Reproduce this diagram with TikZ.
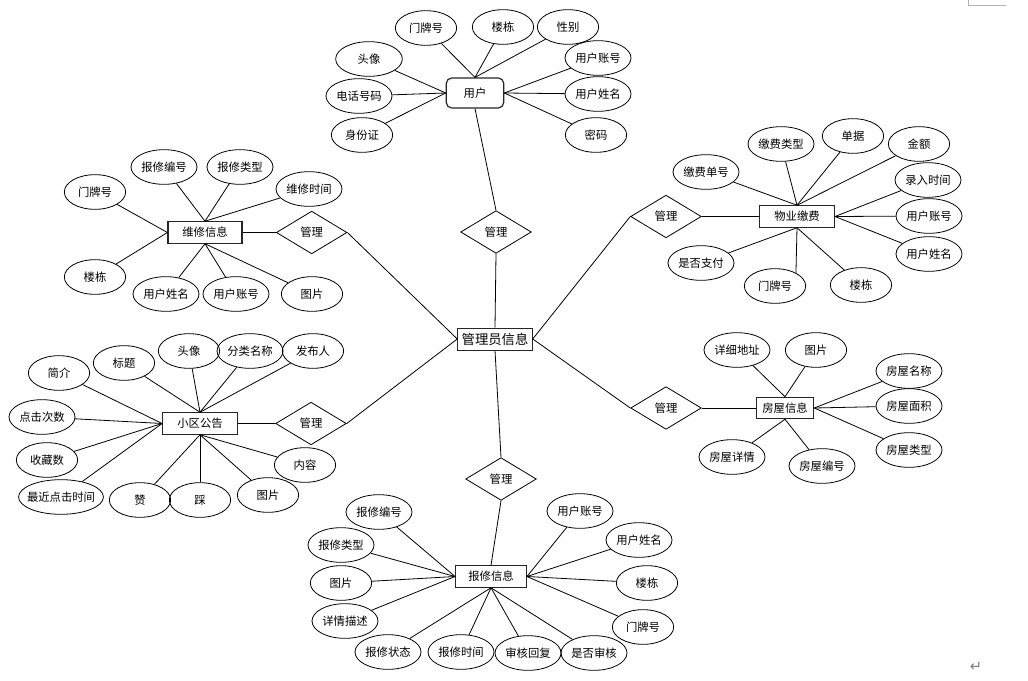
\documentclass[tikz,border=0pt]{standalone}
\usepackage{fontspec}
\setmainfont{Noto Sans CJK SC}
\newfontfamily\symfont{DejaVu Sans}
\usepackage{tikz}
\usetikzlibrary{shapes.geometric,positioning}

\begin{document}
\begin{tikzpicture}[
  x=0.75pt, y=-0.75pt,
  node distance=25pt,
  attr/.style={draw, ellipse, line width=0.6pt, inner sep=0.5pt,
               minimum width=46pt, minimum height=26pt,
               font=\fontsize{8.5}{10}\selectfont},
  entity/.style={draw=black!85, line width=0.9pt, minimum height=16pt,
                 inner sep=2pt, font=\fontsize{8.5}{10}\selectfont},
  rel/.style={draw, diamond, line width=0.6pt, inner sep=0pt,
              minimum width=53pt, minimum height=32pt,
              font=\fontsize{8.5}{10}\selectfont},
  link/.style={draw, line width=0.6pt}]
  \useasboundingbox[fill=white] (0,0) rectangle (1028,681);

  % centre
  \node[entity, line width=0.6pt, minimum width=56pt, minimum height=16.5pt,
        font=\fontsize{10}{12}\selectfont] (admin) at (495,339) {管理员信息};

  % user
  \node[entity, rounded corners=4pt, minimum width=43pt, minimum height=22.5pt]
       (user) at (475,93) {用户};
  \node[rel] (mgrUser) at (496,232) {管理};
  \node[attr] (uDoor) at (426,28) {门牌号};
  \node[attr] (uBldg) at (503,27) {楼栋};
  \node[attr] (uSex) at (568,27) {性别};
  \node[attr] (uAcct) at (598,58) {用户账号};
  \node[attr] (uName) at (598,94) {用户姓名};
  \node[attr] (uPwd) at (596,135) {密码};
  \node[attr, minimum width=50pt] (uHead) at (369,59) {头像};
  \node[attr] (uTel) at (359,96) {电话号码};
  \node[attr] (uIdc) at (362,135) {身份证};
  \foreach \a in {uDoor,uBldg,uSex} \draw[link] (\a) -- (user.north);
  \foreach \a in {uAcct,uName,uPwd} \draw[link] (\a) -- (user.east);
  \foreach \a in {uHead,uTel,uIdc} \draw[link] (\a) -- (user.west);

  % maintenance
  \node[entity, minimum width=55.5pt] (fix) at (205,232.5) {维修信息};
  \node[rel, right=of fix] (mgrFix) {管理};
  \node[attr] (fDoor) at (95,192) {门牌号};
  \node[attr] (fNo) at (164,167) {报修编号};
  \node[attr] (fType) at (240,167) {报修类型};
  \node[attr] (fTime) at (309,189) {维修时间};
  \node[attr] (fBldg) at (95,277) {楼栋};
  \node[attr] (fName) at (166,294) {用户姓名};
  \node[attr] (fAcct) at (236,294) {用户账号};
  \node[attr] (fPic) at (312,294) {图片};
  \foreach \a in {fDoor,fBldg} \draw[link] (\a) -- (fix.west);
  \foreach \a in {fNo,fType,fTime} \draw[link] (\a) -- (fix.north);
  \foreach \a in {fName,fAcct,fPic} \draw[link] (\a) -- (fix.south);

  % property fee
  \node[entity, minimum width=56pt] (fee) at (797,216.5) {物业缴费};
  \node[rel, left=43pt of fee] (mgrFee) {管理};
  \node[attr] (pNo) at (706,172) {缴费单号};
  \node[attr] (pType) at (781,144) {缴费类型};
  \node[attr] (pBill) at (853,136) {单据};
  \node[attr] (pSum) at (919,144) {金额};
  \node[attr] (pTime) at (928,180) {录入时间};
  \node[attr] (pAcct) at (929,216) {用户账号};
  \node[attr] (pName) at (929,254) {用户姓名};
  \node[attr] (pPaid) at (701,263) {是否支付};
  \node[attr] (pDoor) at (775,286) {门牌号};
  \node[attr] (pBldg) at (861,285) {楼栋};
  \foreach \a in {pNo,pType,pBill,pSum} \draw[link] (\a) -- (fee.north);
  \foreach \a in {pTime,pAcct,pName} \draw[link] (\a) -- (fee.east);
  \foreach \a in {pPaid,pBldg} \draw[link] (\a) -- (fee.south);
  \draw[link] (fee.south) -- (pDoor.32);

  % notice
  \node[entity, minimum width=56pt] (notice) at (200,423.5) {小区公告};
  \node[rel, right=28pt of notice] (mgrNotice) {管理};
  \node[attr] (nIntro) at (59,373) {简介};
  \node[attr] (nTitle) at (124,363) {标题};
  \node[attr] (nHead) at (189,351) {头像};
  \node[attr] (nCat) at (250,351) {分类名称};
  \node[attr] (nAuthor) at (313,351) {发布人};
  \node[attr] (nClick) at (42,417) {点击次数};
  \node[attr] (nFav) at (47,460) {收藏数};
  \node[attr, inner xsep=-3pt] (nLast) at (61,497) {最近点击时间};
  \node[attr] (nUp) at (140,500) {赞};
  \node[attr] (nDown) at (200,500) {踩};
  \node[attr] (nPic) at (268,495) {图片};
  \node[attr] (nBody) at (305,465) {内容};
  \foreach \a in {nIntro,nClick,nFav,nLast} \draw[link] (\a) -- (notice.west);
  \foreach \a in {nTitle,nHead,nCat,nAuthor} \draw[link] (\a) -- (notice.north);
  \foreach \a in {nUp,nDown,nPic,nBody} \draw[link] (\a) -- (notice.south);

  % house
  \node[entity, minimum width=43pt] (house) at (785,408) {房屋信息};
  \node[rel, left=40.5pt of house] (mgrHouse) {管理};
  \node[attr] (hAddr) at (737,350) {详细地址};
  \node[attr] (hPic) at (816,350) {图片};
  \node[attr] (hName) at (909,371) {房屋名称};
  \node[attr] (hArea) at (909,406) {房屋面积};
  \node[attr] (hType) at (909,450) {房屋类型};
  \node[attr] (hDesc) at (732,457) {房屋详情};
  \node[attr] (hNo) at (822,466) {房屋编号};
  \foreach \a in {hAddr,hPic} \draw[link] (\a) -- (house.north);
  \foreach \a in {hName,hArea,hType} \draw[link] (\a) -- (house.east);
  \foreach \a in {hDesc,hNo} \draw[link] (\a) -- (house.south);

  % repair request
  \node[entity, minimum width=53pt] (apply) at (491,576.5) {报修信息};
  \node[rel] (mgrApply) at (501,479) {管理};
  \node[attr] (aNo) at (379,512) {报修编号};
  \node[attr] (aType) at (341,545) {报修类型};
  \node[attr] (aPic) at (341,583) {图片};
  \node[attr] (aDesc) at (345,621) {详情描述};
  \node[attr] (aState) at (388,652) {报修状态};
  \node[attr] (aTime) at (461,652) {报修时间};
  \node[attr] (aReply) at (528,653) {审核回复};
  \node[attr] (aCheck) at (594,653) {是否审核};
  \node[attr] (aAcct) at (580,511) {用户账号};
  \node[attr] (aName) at (639,540) {用户姓名};
  \node[attr] (aBldg) at (647,583) {楼栋};
  \node[attr] (aDoor) at (643,627) {门牌号};
  \foreach \a in {aNo,aType,aPic,aDesc} \draw[link] (\a) -- (apply.west);
  \foreach \a in {aState,aTime,aReply,aCheck} \draw[link] (\a) -- (apply.south);
  \foreach \a in {aAcct,aName,aBldg,aDoor} \draw[link] (\a) -- (apply.east);

  % relations to the centre
  \draw[link] (user.south) -- (mgrUser.north);
  \draw[link] (mgrUser.south) -- (admin.north);
  \draw[link] (fix) -- (mgrFix);
  \draw[link] (mgrFix.east) -- (admin.west);
  \draw[link] (notice) -- (mgrNotice);
  \draw[link] (mgrNotice.east) -- (admin.west);
  \draw[link] (fee) -- (mgrFee);
  \draw[link] (mgrFee.west) -- (admin.east);
  \draw[link] (house) -- (mgrHouse);
  \draw[link] (mgrHouse.west) -- (admin.east);
  \draw[link] (admin.south) -- (mgrApply.north);
  \draw[link] (mgrApply.south) -- (apply.north);

  % page marks
  \draw[gray!60, line width=0.75pt] (968,0) -- (968,6) -- (1006,6);
  \node[text=gray, font=\symfont\fontsize{11}{12}\selectfont] (retMark) at (976,667) {↵};
\end{tikzpicture}
\end{document}
